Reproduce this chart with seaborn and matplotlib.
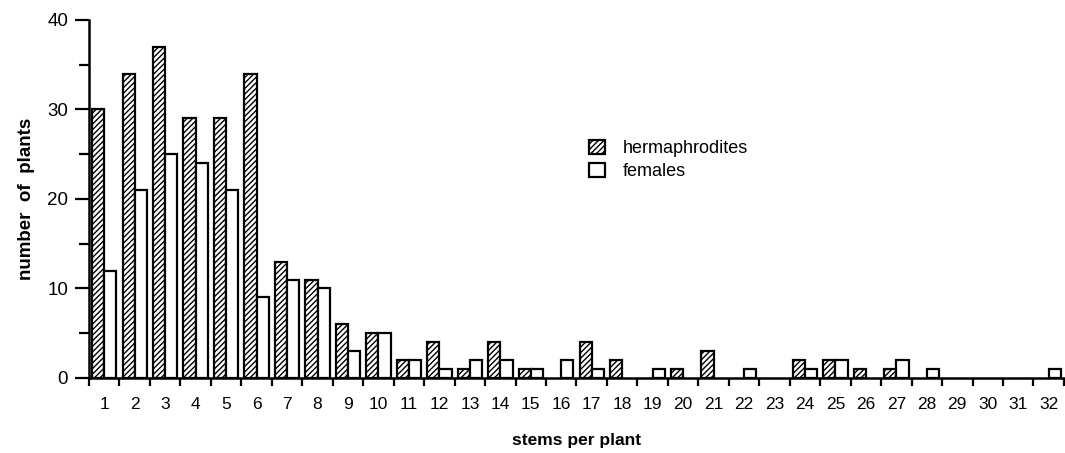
import matplotlib
matplotlib.use("Agg")
import matplotlib.pyplot as plt
import seaborn as sns
import pandas as pd
import numpy as np
from matplotlib.ticker import MultipleLocator, FixedLocator
from matplotlib.patches import Patch

stems = list(range(1, 33))
hermaphrodites = [30, 34, 37, 29, 29, 34, 13, 11, 6, 5, 2, 4, 1, 4, 1, 0,
                  4, 2, 0, 1, 3, 0, 0, 2, 2, 1, 1, 0, 0, 0, 0, 0]
females = [12, 21, 25, 24, 21, 9, 11, 10, 3, 5, 2, 1, 2, 2, 1, 2,
           1, 0, 1, 0, 0, 1, 0, 1, 2, 0, 2, 1, 0, 0, 0, 1]
series_names = ["hermaphrodites", "females"]

df = pd.DataFrame({
    "stems": stems * 2,
    "count": hermaphrodites + females,
    "group": [series_names[0]] * len(stems) + [series_names[1]] * len(stems),
})

sns.set_style("white")
plt.rcParams["font.family"] = ["Liberation Sans", "DejaVu Sans"]
plt.rcParams["hatch.linewidth"] = 1.0
plt.rcParams["text.color"] = "black"
plt.rcParams["axes.labelcolor"] = "black"
plt.rcParams["xtick.color"] = "black"
plt.rcParams["ytick.color"] = "black"

fig = plt.figure(figsize=(10.65, 4.53), dpi=100)
ax = fig.add_axes([0.0836, 0.1656, 0.9154, 0.7903])

sns.barplot(data=df, x="stems", y="count", hue="group", order=stems,
            hue_order=series_names, palette=["white", "white"],
            width=0.8, edgecolor="black", linewidth=1.6, saturation=1,
            legend=False, ax=ax)

n = len(stems)
for i, patch in enumerate(ax.patches):
    if i < n:
        patch.set_hatch("//////")
    if patch.get_height() == 0:
        patch.set_visible(False)

ax.set_xlim(-0.5, n - 0.5)
ax.set_ylim(0, 40)
ax.yaxis.set_major_locator(MultipleLocator(10))
ax.yaxis.set_minor_locator(MultipleLocator(5))
ax.set_xticks(range(n))
ax.set_xticklabels([str(s) for s in stems])
ax.xaxis.set_minor_locator(FixedLocator(np.arange(-0.5, n, 1.0)))

ax.tick_params(axis="x", which="major", length=0, pad=14, labelsize=12.5)
ax.tick_params(axis="x", which="minor", length=6, width=1.6, direction="out", bottom=True)
ax.tick_params(axis="y", which="major", length=10, width=1.6, direction="out", left=True, labelsize=13.5, pad=5)
ax.tick_params(axis="y", which="minor", length=7, width=1.6, direction="out", left=True)

for s in ["top", "right"]:
    ax.spines[s].set_visible(False)
for s in ["left", "bottom"]:
    ax.spines[s].set_linewidth(1.8)
    ax.spines[s].set_color("black")

ax.set_xlabel("stems per plant", fontsize=12.5, fontweight="bold", labelpad=15)
ax.set_ylabel("number  of  plants", fontsize=13.5, fontweight="bold", labelpad=9)

handles = [Patch(facecolor="white", edgecolor="black", hatch="//////", linewidth=1.6),
           Patch(facecolor="white", edgecolor="black", linewidth=1.6)]
ax.legend(handles, series_names, loc="upper left", bbox_to_anchor=(0.513, 0.665),
          frameon=False, fontsize=13, handlelength=0.85, handleheight=0.85,
          handletextpad=1.0, labelspacing=0.3, borderpad=0, borderaxespad=0)

fig.savefig("out.png", dpi=100)
